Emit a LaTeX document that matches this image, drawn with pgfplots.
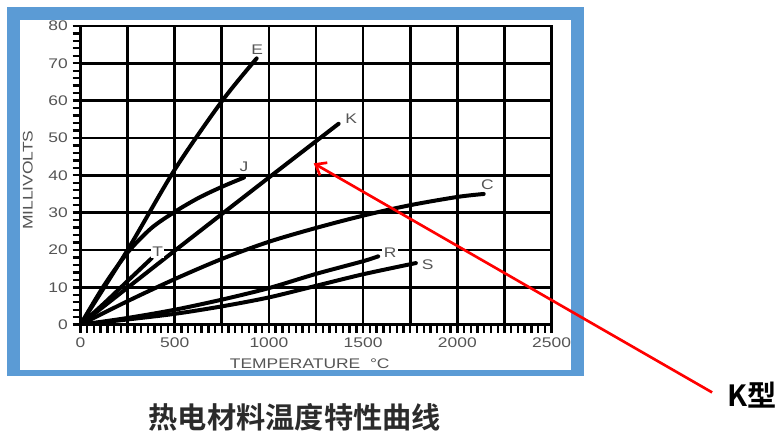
\documentclass[border=0pt]{standalone}
\usepackage{pgfplots}
\pgfplotsset{compat=1.18}
\usepackage{fontspec}
\setmainfont{Liberation Sans}
\newfontfamily\chartfont[FakeStretch=1.25]{Liberation Sans}
\newfontfamily\cjk{Noto Sans CJK SC}[BoldFont={Noto Sans CJK SC Bold}]
\usetikzlibrary{arrows.meta}
\definecolor{frameblue}{HTML}{5B9BD5}
\definecolor{labelgray}{HTML}{555555}
\definecolor{titlegray}{HTML}{2B2B2B}

\begin{document}
\begin{tikzpicture}
% frame, in pixel units of the reference (y down)
\begin{scope}[x=0.75pt,y=-0.75pt]
  \path (0,0) rectangle (781,445);
  \fill[frameblue] (7,7) rectangle (586,378);
  \fill[white] (20.5,20.5) rectangle (573,371.5);
\end{scope}

\begin{axis}[
    at={(60.6pt,-244.5pt)},
    anchor=south west,
    scale only axis,
    width=354.75pt,
    height=225pt,
    xmin=0, xmax=2500,
    ymin=0, ymax=80,
    xtick={0,250,...,2500},
    xticklabels={0,,500,,1000,,1500,,2000,,2500},
    ytick={0,10,...,80},
    yticklabels={0,10,20,30,40,50,60,70,80},
    minor x tick num=6,
    minor y tick num=4,
    tick align=outside,
    tick pos=left,
    major tick length=6pt,
    minor tick length=6pt,
    tick style={black, line width=1.8pt},
    grid=major,
    grid style={black, line width=2pt},
    axis line style={black, line width=2pt},
    ticklabel style={font=\chartfont\fontsize{10.5}{12}\selectfont, text=labelgray},
]
% E
\addplot[black, line width=3pt, smooth, line cap=round] coordinates {
  (0,0) (250,20) (500,41.5) (750,59.8) (935,71.3)
};
% J
\addplot[black, line width=3pt, smooth, line cap=round] coordinates {
  (0,0) (125,10.5) (250,19.3) (375,25.8) (500,30.2) (625,33.9) (750,36.9) (868,39.4)
};
% T
\addplot[black, line width=3pt, smooth, line cap=round] coordinates {
  (0,0) (125,5.7) (250,11.7) (378,17.8)
};
% K
\addplot[black, line width=3pt, smooth, line cap=round] coordinates {
  (0,0) (500,19.8) (1000,39.4) (1370,53.8)
};
% C
\addplot[black, line width=3pt, smooth, line cap=round] coordinates {
  (0,0) (250,6.3) (500,12.2) (750,17.6) (1000,22.2) (1250,25.9) (1500,29.2) (1750,32) (2000,34.2) (2140,35)
};
% R
\addplot[black, line width=3pt, smooth, line cap=round] coordinates {
  (0,0) (250,1.8) (500,4) (750,6.7) (1000,9.8) (1250,13.6) (1500,17) (1580,18.3)
};
% S
\addplot[black, line width=3pt, smooth, line cap=round] coordinates {
  (0,0) (250,1.4) (500,2.9) (750,4.9) (1000,7.3) (1250,10.4) (1500,13.5) (1780,16.5)
};
\begin{scope}[every node/.style={font=\chartfont\fontsize{10.5}{12}\selectfont, text=labelgray, fill=white, inner sep=1pt}]
\node at (axis cs:938,73.6) {E};
\node at (axis cs:868,42.2) {J};
\node at (axis cs:1437,55.1) {K};
\node at (axis cs:2159,37.6) {C};
\node at (axis cs:410,19.6) {T};
\node at (axis cs:1643,19.4) {R};
\node at (axis cs:1842,16) {S};
\end{scope}
\end{axis}

\begin{scope}[x=0.75pt,y=-0.75pt]
  \node[font=\chartfont\fontsize{10.5}{12}\selectfont, text=labelgray, rotate=90] at (28,181) {MILLIVOLTS};
  \node[font=\chartfont\fontsize{10.5}{12}\selectfont, text=labelgray] at (311,365) {TEMPERATURE\ \ °C};
  \draw[red, line width=2pt, -{Straight Barb[length=7pt,width=11pt]}] (715,394) -- (315,164);
  \node[font=\cjk\bfseries\fontsize{22}{24}\selectfont, text=titlegray] at (296,419) {热电材料温度特性曲线};
  \node[font=\cjk\bfseries\fontsize{22}{24}\selectfont, text=black] at (755,396.5) {K型};
\end{scope}
\end{tikzpicture}
\end{document}
